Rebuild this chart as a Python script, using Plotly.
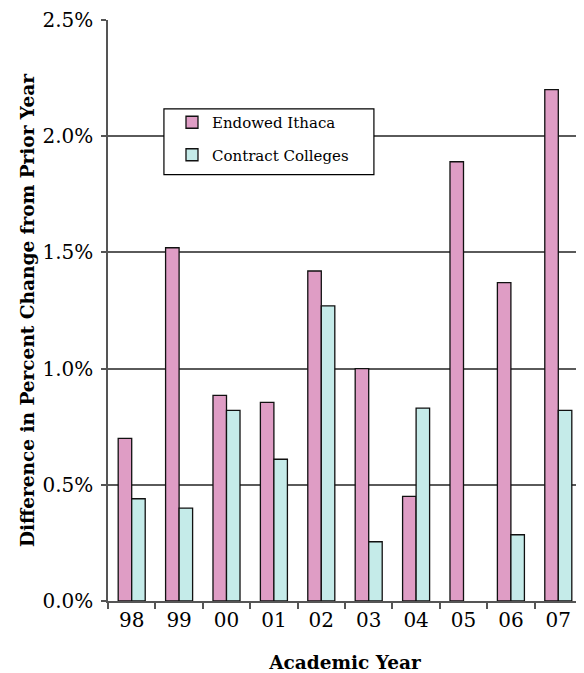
import plotly.graph_objects as go

years = ["98", "99", "00", "01", "02", "03", "04", "05", "06", "07"]
endowed = [0.70, 1.52, 0.885, 0.855, 1.42, 1.00, 0.45, 1.89, 1.37, 2.20]
contract = [0.44, 0.40, 0.82, 0.61, 1.27, 0.255, 0.83, None, 0.285, 0.82]
y_ticks = [0.0, 0.5, 1.0, 1.5, 2.0, 2.5]
y_tick_text = ["0.0%", "0.5%", "1.0%", "1.5%", "2.0%", "2.5%"]

fig = go.Figure()
fig.add_trace(go.Bar(x=years, y=endowed, name="Endowed Ithaca", legendgroup="e",
                     marker=dict(color="#DF9DC5", line=dict(color="#111", width=1.3))))
fig.add_trace(go.Bar(x=years, y=contract, name="Contract Colleges", legendgroup="c",
                     marker=dict(color="#C5EBE9", line=dict(color="#111", width=1.3))))

# legend frame
fig.add_shape(type="rect", xref="paper", yref="paper",
              x0=0.118, x1=0.561, y0=0.734, y1=0.847,
              fillcolor="white", line=dict(color="black", width=1.2), layer="above")

# the page body adds an 8px margin, so the figure is 8px smaller than the window
fig.update_layout(
    width=576, height=665,
    margin=dict(l=100, r=2, t=12, b=72, autoexpand=False),
    paper_bgcolor="white", plot_bgcolor="white",
    barmode="group", bargap=0.43, bargroupgap=0,
    font=dict(family="DejaVu Serif", size=20, color="black"),
    legend=dict(x=0.135, y=0.852, xanchor="left", yanchor="top",
                bgcolor="rgba(0,0,0,0)", borderwidth=0,
                font=dict(family="DejaVu Serif", size=15),
                tracegroupgap=10, traceorder="grouped"),
    xaxis=dict(type="category", showline=True, linecolor="#555", linewidth=1.5,
               ticks="outside", tickson="boundaries", ticklen=6, tickcolor="#555",
               tickwidth=1.5, automargin=False,
               title=dict(text="<b>Academic Year</b>", font=dict(size=18.5), standoff=28),
               tickfont=dict(size=20)),
    yaxis=dict(range=[0, 2.5], tickvals=y_ticks, ticktext=y_tick_text,
               showline=True, linecolor="#555", linewidth=1.5,
               ticks="outside", ticklen=5, tickcolor="#555", tickwidth=1.5,
               ticklabelstandoff=4, automargin=False,
               showgrid=True, gridcolor="#5a5a5a", gridwidth=1.5,
               title=dict(text="<b>Difference in Percent Change from Prior Year</b>",
                          font=dict(size=18.5), standoff=3),
               tickfont=dict(size=20)),
)
fig.write_html("out.html")
